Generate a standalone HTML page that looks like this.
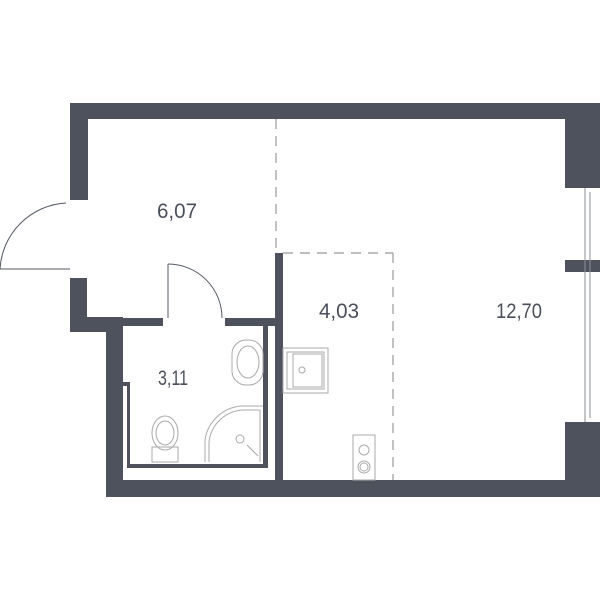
<!DOCTYPE html>
<html><head><style>
body{margin:0;background:#fff;width:600px;height:600px;overflow:hidden}
svg{display:block}
text{font-family:"Liberation Sans",sans-serif;font-size:21px;fill:#4a4f5a}
</style></head><body>
<svg width="600" height="600" viewBox="0 0 600 600">
<g fill="#4d525d">
<rect x="70" y="103" width="530" height="16"/>
<rect x="70" y="103" width="18" height="97"/>
<rect x="70" y="278" width="17" height="54"/>
<rect x="70" y="317" width="53" height="15"/>
<rect x="106" y="317" width="17" height="180"/>
<rect x="106" y="480" width="494" height="17"/>
<rect x="123" y="318" width="40" height="8"/>
<rect x="225" y="318" width="58" height="8"/>
<rect x="275" y="253" width="8" height="227"/>
<rect x="263" y="326" width="5" height="142"/>
<rect x="127" y="464" width="141" height="4"/>
<rect x="127" y="382" width="3" height="86"/>
<rect x="122" y="382" width="8" height="4"/>
<rect x="565" y="103" width="35" height="85"/>
<rect x="565" y="422" width="35" height="75"/>
<rect x="565" y="260" width="35" height="12"/>
</g>
<g fill="none" stroke="#8a8e96" stroke-width="1">
<line x1="585" y1="188" x2="585" y2="422"/>
<line x1="590" y1="192" x2="590" y2="418"/>
</g>
<g fill="none" stroke="#999" stroke-width="1.2" stroke-dasharray="10,7">
<line x1="276" y1="119" x2="276" y2="253"/>
<line x1="283" y1="253" x2="393" y2="253"/>
<line x1="393" y1="253" x2="393" y2="480"/>
</g>
<g fill="none" stroke="#555a64" stroke-width="1">
<line x1="0" y1="269" x2="70" y2="269"/>
<path d="M0 269 A70 70 0 0 1 66 203"/>
<line x1="168" y1="264" x2="168" y2="318"/>
<path d="M168 264 A54 54 0 0 1 222 318"/>
</g>
<g fill="none" stroke="#aaa" stroke-width="1">
<rect x="232" y="340" width="31" height="45" rx="14"/>
<ellipse cx="248" cy="362" rx="11" ry="16"/>
<path d="M205 462 L205 440 A40 40 0 0 1 241 406 L263 406"/>
<path d="M209 462 L209 442 A36 36 0 0 1 243 410 L260 410 L260 462"/>
<circle cx="240" cy="439" r="4"/>
<line x1="247" y1="445" x2="258" y2="456"/>
<rect x="152" y="447" width="26" height="15"/>
<ellipse cx="165" cy="433" rx="13" ry="17"/>
<ellipse cx="165" cy="433" rx="9" ry="12"/>
<rect x="283" y="348" width="45" height="45"/>
<rect x="287" y="352" width="37" height="37"/>
<rect x="293" y="354" width="29" height="33"/>
<circle cx="302" cy="370" r="3"/>
<rect x="353" y="435" width="22" height="45"/>
<circle cx="364" cy="450" r="5"/>
<circle cx="364" cy="467" r="6"/>
<circle cx="364" cy="467" r="4"/>
</g>
<text x="157" y="218" textLength="40" lengthAdjust="spacingAndGlyphs">6,07</text>
<text x="319" y="318" textLength="40" lengthAdjust="spacingAndGlyphs">4,03</text>
<text x="496" y="318" textLength="46" lengthAdjust="spacingAndGlyphs">12,70</text>
<text x="158" y="385" textLength="30" lengthAdjust="spacingAndGlyphs">3,11</text>
</svg>
</body></html>
